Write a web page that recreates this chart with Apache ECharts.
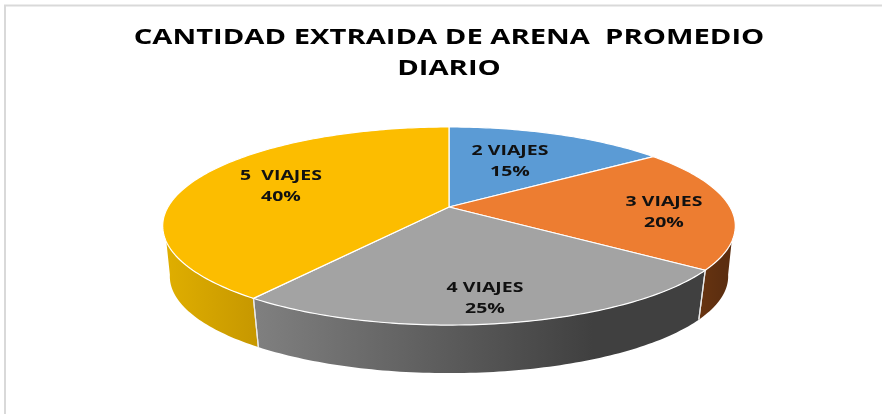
<!DOCTYPE html>
<html>
<head>
<meta charset="utf-8">
<style>html,body{margin:0;padding:0;background:#fff}#c{width:882px;height:414px}</style>
<script src="https://cdn.jsdelivr.net/npm/echarts@6/dist/echarts.min.js"></script>
</head>
<body>
<div id="c"></div>
<script>
const titleText = 'CANTIDAD EXTRAIDA DE ARENA  PROMEDIO\nDIARIO';
const categories = ['2 VIAJES', '3 VIAJES', '4 VIAJES', '5  VIAJES'];
const values = [15, 20, 25, 40];
const topColors = ['#5B9BD5', '#ED7D31', '#A3A3A3', '#FCBD00'];
const sideColors = [['#3A6A96', '#3A6A96'], ['#683410', '#5C2E10'], ['#808080', '#404040'], ['#DFAE00', '#C69700']];
const labelCenters = [[510, 162], [664, 213], [485, 299], [281, 187]];

const FONT = '"Open Sans", "Liberation Sans", sans-serif';
const STRETCH = 1.39;
const CX = 449, CY = 207, R = 281, B = 95.4, P = 0.192, SHRINK = 0.975, DEPTH = 51;
const TOP_RANGE = [110, 250], BOTTOM_RANGE = [100, 260];
const total = values.reduce((a, b) => a + b, 0);
const project = (deg, r, bottom) => {
  const a = deg * Math.PI / 180, x = r * Math.sin(a), y = r * Math.cos(a), d = 1 + P * y;
  const s = bottom ? SHRINK : 1;
  return [CX + s * R * x / d, CY - s * B * y / d + (bottom ? DEPTH : 0)];
};
const arc = (from, to, bottom) => {
  const pts = [], n = Math.max(2, Math.ceil(Math.abs(to - from)));
  for (let i = 0; i <= n; i++) pts.push(project(from + (to - from) * i / n, 1, bottom));
  return pts;
};

function renderItem(params, api) {
  const i = params.dataIndex;
  const start = values.slice(0, i).reduce((a, b) => a + b, 0) / total * 360;
  const end = start + api.value(0) / total * 360;
  const children = [];
  const tFrom = Math.max(start, TOP_RANGE[0]), tTo = Math.min(end, TOP_RANGE[1]);
  const bFrom = Math.max(start, BOTTOM_RANGE[0]), bTo = Math.min(end, BOTTOM_RANGE[1]);
  if (bTo > bFrom) {
    const topArc = tTo > tFrom ? arc(tFrom, tTo, false) : [project(start, 1, false)];
    const pts = topArc.concat(arc(bFrom, bTo, true).reverse());
    children.push({
      type: 'polygon', shape: { points: pts },
      style: {
        fill: new echarts.graphic.LinearGradient(0, 0, 1, 0, i === 3
          ? [{ offset: 0, color: sideColors[i][0] }, { offset: 1, color: sideColors[i][1] }]
          : [{ offset: 0, color: sideColors[i][0] }, { offset: 0.75, color: sideColors[i][1] }, { offset: 1, color: sideColors[i][1] }])
      }
    });
    [start, end].forEach(deg => {
      if (deg > BOTTOM_RANGE[0] && deg < BOTTOM_RANGE[1]) {
        const p1 = project(deg, 1, false), p2 = project(deg, 1, true);
        children.push({
          type: 'line', z2: 2,
          shape: { x1: p1[0], y1: p1[1], x2: p2[0], y2: p2[1] },
          style: { stroke: '#E8E8E8', lineWidth: 1.2 }
        });
      }
    });
  }
  children.push({
    type: 'polygon', z2: 3, shape: { points: [[CX, CY]].concat(arc(start, end, false)) },
    style: { fill: topColors[i], stroke: '#ffffff', lineWidth: 1.2 }
  });
  children.push({
    type: 'text', z2: 4,
    x: labelCenters[i][0], y: labelCenters[i][1], scaleX: STRETCH,
    style: {
      text: categories[i] + '\n' + api.value(0) + '%',
      x: 0, y: 0,
      align: 'center', verticalAlign: 'middle',
      fill: '#111', font: 'bold 14px ' + FONT, lineHeight: 21
    }
  });
  return { type: 'group', children };
}

const chart = echarts.init(document.getElementById('c'), null, { renderer: 'canvas' });
chart.setOption({
  animation: false,
  backgroundColor: '#ffffff',
  graphic: [{
    type: 'polyline', silent: true,
    shape: { points: [[5, 414], [5, 5.5], [882, 5.5]] },
    style: { stroke: '#D9D9D9', lineWidth: 2, fill: null }
  }, {
    type: 'text', silent: true, x: 449, y: 53.5, scaleX: STRETCH,
    style: {
      text: titleText, x: 0, y: 0, align: 'center', verticalAlign: 'middle',
      fill: '#000', font: 'bold 21px ' + FONT, lineHeight: 31
    }
  }],
  series: [{
    type: 'custom', coordinateSystem: 'none', renderItem,
    data: categories.map((name, i) => ({ name, value: [values[i]] }))
  }]
});
</script>
</body>
</html>
